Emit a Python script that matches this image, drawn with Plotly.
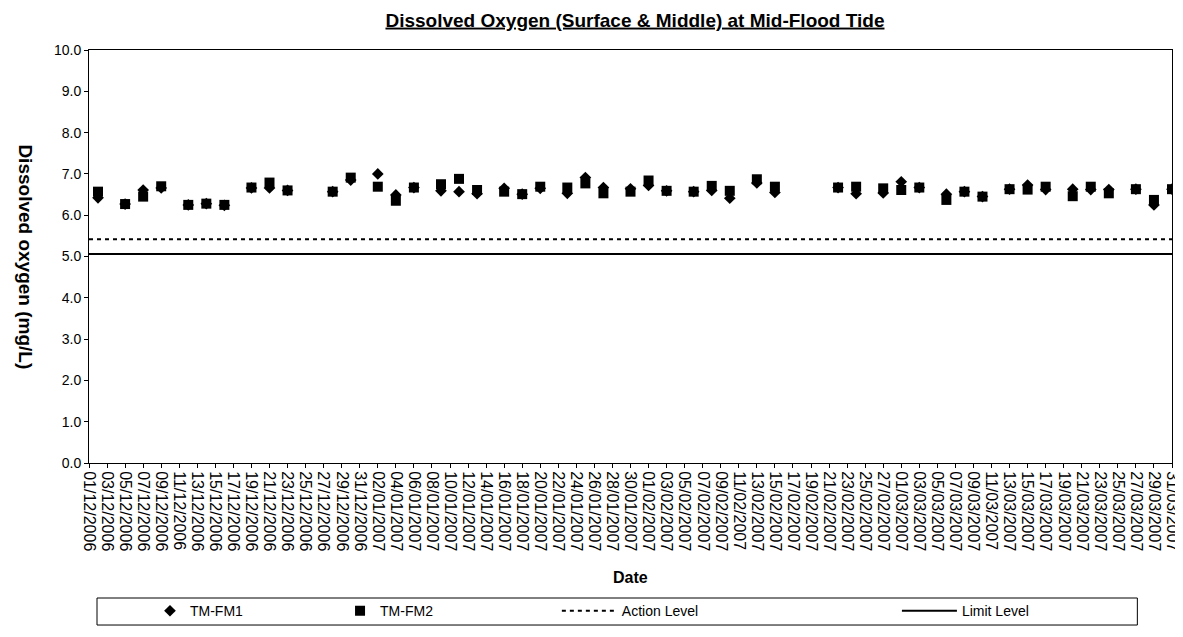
import plotly.graph_objects as go
import pandas as pd

# ---- data ----
dates = ["2006-12-02", "2006-12-05", "2006-12-07", "2006-12-09", "2006-12-12", "2006-12-14",
         "2006-12-16", "2006-12-19", "2006-12-21", "2006-12-23", "2006-12-28", "2006-12-30",
         "2007-01-02", "2007-01-04", "2007-01-06", "2007-01-09", "2007-01-11", "2007-01-13",
         "2007-01-16", "2007-01-18", "2007-01-20", "2007-01-23", "2007-01-25", "2007-01-27",
         "2007-01-30", "2007-02-01", "2007-02-03", "2007-02-06", "2007-02-08", "2007-02-10",
         "2007-02-13", "2007-02-15", "2007-02-22", "2007-02-24", "2007-02-27", "2007-03-01",
         "2007-03-03", "2007-03-06", "2007-03-08", "2007-03-10", "2007-03-13", "2007-03-15",
         "2007-03-17", "2007-03-20", "2007-03-22", "2007-03-24", "2007-03-27", "2007-03-29",
         "2007-03-31"]

tm_fm1 = [6.42, 6.27, 6.61, 6.66, 6.25, 6.28, 6.24, 6.66, 6.66, 6.60, 6.57, 6.85,
          7.00, 6.49, 6.67, 6.59, 6.57, 6.52, 6.65, 6.51, 6.65, 6.53, 6.91, 6.67,
          6.64, 6.72, 6.59, 6.57, 6.60, 6.41, 6.78, 6.55, 6.67, 6.52, 6.54, 6.81,
          6.67, 6.51, 6.57, 6.45, 6.63, 6.73, 6.62, 6.63, 6.62, 6.62, 6.63, 6.25,
          6.63]

tm_fm2 = [6.57, 6.27, 6.45, 6.70, 6.25, 6.28, 6.25, 6.67, 6.79, 6.60, 6.57, 6.91,
          6.69, 6.35, 6.67, 6.75, 6.88, 6.61, 6.57, 6.51, 6.69, 6.67, 6.77, 6.53,
          6.57, 6.84, 6.59, 6.57, 6.71, 6.59, 6.87, 6.69, 6.67, 6.69, 6.65, 6.61,
          6.67, 6.37, 6.57, 6.45, 6.63, 6.62, 6.69, 6.46, 6.69, 6.53, 6.63, 6.37,
          6.63]

level_dates = ["2006-12-01", "2007-03-31"]
action_level = [5.42, 5.42]
limit_level = [5.06, 5.06]

x_start, x_end = "2006-12-01", "2007-03-31"
tick_dates = pd.date_range(x_start, x_end, freq="2D")
tick_vals = [d.strftime("%Y-%m-%d") for d in tick_dates]
tick_text = [d.strftime("%d/%m/%Y") for d in tick_dates]

y_ticks = [0, 1, 2, 3, 4, 5, 6, 7, 8, 9, 10]

FONT = "Liberation Sans, Arial, sans-serif"

fig = go.Figure()
fig.add_trace(go.Scatter(x=dates, y=tm_fm1, mode="markers", name="TM-FM1", legend="legend",
                         marker=dict(symbol="diamond", size=9, color="black")))
fig.add_trace(go.Scatter(x=dates, y=tm_fm2, mode="markers", name="TM-FM2", legend="legend2",
                         marker=dict(symbol="square", size=10, color="black")))
fig.add_trace(go.Scatter(x=level_dates, y=action_level, mode="lines", name="Action Level",
                         legend="legend3",
                         line=dict(color="black", width=2, dash="4px,4px")))
fig.add_trace(go.Scatter(x=level_dates, y=limit_level, mode="lines", name="Limit Level",
                         legend="legend4",
                         line=dict(color="black", width=2)))


def leg(xpos, itemwidth=30):
    return dict(orientation="h", x=xpos, xanchor="left", y=-0.32, yanchor="top",
                borderwidth=0, bgcolor="rgba(0,0,0,0)", itemwidth=itemwidth,
                font=dict(size=14, family=FONT))


fig.update_layout(
    width=1175, height=629,
    margin=dict(l=81, r=11, t=42, b=174, autoexpand=False),
    paper_bgcolor="white", plot_bgcolor="white",
    font=dict(family=FONT, color="black", size=14),
    title=dict(text="<b><u>Dissolved Oxygen (Surface &amp; Middle) at Mid-Flood Tide</u></b>",
               x=0.5336, xanchor="center", y=0.981, yanchor="middle",
               font=dict(size=19, family=FONT, color="black")),
    showlegend=True,
    legend=leg(0.0563),
    legend2=leg(0.2318),
    legend3=leg(0.432, 55),
    legend4=leg(0.746, 55),
    shapes=[dict(type="rect", xref="paper", yref="paper",
                 x0=0.0074, x1=0.968, y0=-0.3923, y1=-0.3269,
                 line=dict(color="black", width=1), fillcolor="rgba(0,0,0,0)")],
)

fig.update_xaxes(
    type="date", range=[x_start, x_end],
    tickmode="array", tickvals=tick_vals, ticktext=tick_text, tickangle=90,
    tickfont=dict(size=16, family=FONT),
    showline=True, linecolor="black", linewidth=1, mirror=True,
    ticks="outside", ticklen=4, tickcolor="black",
    showgrid=False, zeroline=False, automargin=False,
)
fig.update_yaxes(
    range=[0, 10], tickmode="array", tickvals=y_ticks, tickformat=".1f",
    tickfont=dict(size=14, family=FONT),
    showline=True, linecolor="black", linewidth=1, mirror=True,
    ticks="outside", ticklen=4, tickcolor="black",
    showgrid=False, zeroline=False, automargin=False,
)

fig.add_annotation(text="<b>Dissolved oxygen (mg/L)</b>", textangle=90,
                   xref="paper", yref="paper", x=-0.059, y=0.5,
                   xanchor="center", yanchor="middle", showarrow=False,
                   font=dict(size=19, family=FONT))
fig.add_annotation(text="<b>Date</b>", xref="paper", yref="paper", x=0.5, y=-0.278,
                   xanchor="center", yanchor="middle", showarrow=False,
                   font=dict(size=16, family=FONT))

fig.write_html("out.html")
